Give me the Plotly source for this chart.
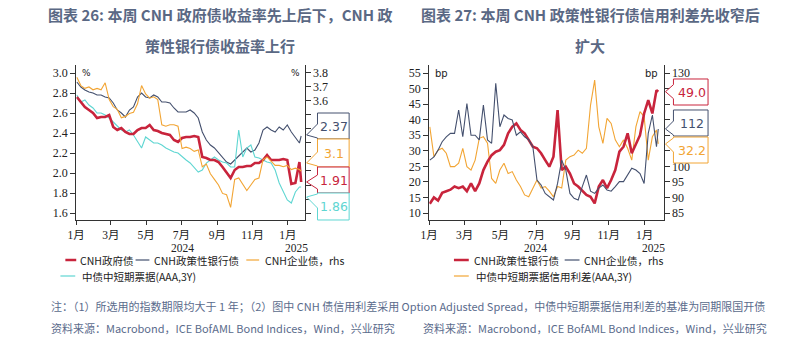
import pandas as pd
import plotly.graph_objects as go

W, H = 800, 341

# ---------------- data ----------------
dates = list(pd.date_range('2024-01-02', periods=56, freq='7D')) + [pd.Timestamp('2025-01-24')]

# Chart 26 (yields, %)
gov_yield = [2.76, 2.71, 2.66, 2.63, 2.60, 2.55, 2.56, 2.56, 2.58, 2.46,
             2.43, 2.45, 2.41, 2.39, 2.39, 2.43, 2.45, 2.45, 2.48, 2.43,
             2.42, 2.40, 2.39, 2.38, 2.33, 2.31, 2.35, 2.36, 2.36, 2.37,
             2.36, 2.16, 2.15, 2.13, 2.13, 2.11, 2.06, 2.01, 1.95, 2.03,
             2.06, 2.06, 2.07, 2.07, 2.10, 2.10, 2.13, 2.18, 2.13, 2.13,
             2.13, 2.14, 2.13, 1.89, 1.90, 2.11, 1.91]
policy_yield = [2.91, 2.86, 2.83, 2.81, 2.80, 2.78, 2.78, 2.76, 2.75, 2.70,
                2.63, 2.60, 2.56, 2.63, 2.66, 2.76, 2.80, 2.76, 2.75, 2.78,
                2.76, 2.71, 2.71, 2.70, 2.65, 2.61, 2.61, 2.61, 2.63, 2.60,
                2.55, 2.41, 2.33, 2.28, 2.25, 2.20, 2.16, 2.11, 2.09, 2.13,
                2.18, 2.21, 2.25, 2.21, 2.23, 2.30, 2.43, 2.46, 2.43, 2.41,
                2.46, 2.43, 2.48, 2.41, 2.35, 2.30, 2.37]
corp_yield = [3.77, 3.71, 3.69, 3.70, 3.68, 3.69, 3.68, 3.73, 3.61, 3.56,
              3.54, 3.48, 3.49, 3.51, 3.52, 3.58, 3.71, 3.65, 3.62, 3.63,
              3.61, 3.43, 3.42, 3.43, 3.43, 3.42, 3.26, 3.27, 3.26, 3.24,
              3.25, 3.13, 3.15, 3.08, 3.04, 3.00, 2.94, 2.93, 2.84, 3.04,
              3.05, 3.00, 2.96, 3.00, 3.04, 3.05, 3.18, 3.20, 3.17, 3.14,
              3.14, 3.13, 3.14, 3.11, 3.12, 3.11, 3.10]
mtn_yield = [2.78, 2.71, 2.73, 2.68, 2.65, 2.60, 2.60, 2.58, 2.55, 2.51,
             2.48, 2.43, 2.41, 2.43, 2.38, 2.31, 2.25, 2.36, 2.33, 2.30,
             2.30, 2.28, 2.25, 2.23, 2.21, 2.20, 2.16, 2.13, 2.10, 2.06,
             2.01, 2.03, 2.10, 2.13, 2.16, 2.13, 2.11, 2.10, 2.06, 2.06,
             2.43, 2.16, 2.25, 2.28, 2.16, 2.15, 2.13, 2.11, 2.10, 2.03,
             1.90, 1.81, 1.73, 1.70, 1.81, 1.86, 1.86]

# Chart 27 (spreads, bp)
policy_spread = [13, 15, 14, 16.5, 17, 17.5, 18.5, 18, 18.5, 17,
                 19.5, 17, 19.5, 23.8, 26.5, 28.6, 29.7, 30.2, 31.9, 35.6,
                 37.7, 38.8, 36.7, 35.6, 33.5, 31.3, 30.8, 29.2, 27.0, 24.9,
                 28.1, 43.1, 23.8, 24.9, 22.7, 19.5, 18.5, 17.0, 15.8, 15.2,
                 13.1, 18.5, 20.6, 18.0, 20.6, 23.8, 29.7, 31.3, 35.6, 29.2,
                 32.4, 35.0, 42.0, 46.3, 42.0, 49.5, 49.0]
corp_spread = [102, 103, 105.2, 107.9, 109.5, 110.6, 110.6, 118.1, 109.5, 120.2,
               110, 110, 108.5, 119.7, 108.5, 107.4, 126.7, 112.7, 116.5, 115.4,
               114.9, 110, 111.1, 109.5, 108.5, 106.3, 95.6, 94, 91.3, 90.2,
               89.2, 94.5, 102, 98.8, 91.3, 89.7, 89.2, 93.5, 97.2, 92,
               91.3, 93, 94, 92.4, 92, 93.5, 95.1, 95.1, 97.2, 99.4,
               98.8, 97.7, 94.5, 110.6, 116.5, 106.3, 112]
mtn_spread = [37.7, 28.1, 30.2, 30.8, 29.2, 24.9, 24.9, 26, 30.8, 24.9,
              23.8, 27, 34, 34.5, 32.4, 21.1, 19.5, 23.8, 26, 22.7,
              23.3, 20.6, 18.5, 15.8, 15.2, 18, 20.6, 18, 18.5, 17,
              15.2, 18.5, 18, 27, 28.1, 28.6, 30.2, 29.2, 30.8, 44.7,
              52.7, 37.7, 32.4, 40.4, 38.8, 33.5, 31.3, 33.5, 30.8, 27,
              37.7, 42.6, 41, 27, 34.5, 36.7, 32.2]

month_ticks = ['2024-01-01', '2024-03-01', '2024-05-01', '2024-07-01',
               '2024-09-01', '2024-11-01', '2025-01-01']
month_labels = ['1月', '3月', '5月', '7月', '9月', '11月', '1月']

y1_ticks = [1.6, 1.8, 2.0, 2.2, 2.4, 2.6, 2.8, 3.0]
y2_ticks = [2.8, 2.9, 3.0, 3.1, 3.2, 3.3, 3.4, 3.5, 3.6, 3.7, 3.8]
y2_labels = ['', '', '', '', '', '', '', '', '3.6', '3.7', '3.8']   # lower labels sit under the callouts
y3_ticks = [10, 15, 20, 25, 30, 35, 40, 45, 50, 55]
y4_ticks = [85, 90, 95, 100, 105, 110, 115, 120, 125, 130]
y4_labels = ['85', '90', '95', '100', '', '', '', '', '', '130']

# ---------------- style ----------------
RED = '#c8243c'
NAVY = '#44506e'
ORANGE = '#f2a534'
CYAN = '#5fd6d2'
TITLE_C = '#5a6884'
NOTE_C = '#5a6b8c'
SERIF = 'Liberation Serif, Noto Sans CJK SC'
CJK = 'Noto Sans CJK SC'

PLOT_TOP, PLOT_BOT = 65, 220
L_X0, L_X1 = 68, 299
R_X0, R_X1 = 425, 662

def px(x):
    return x / W

def py(y):
    return (H - y) / H

y1_rng = [1.53, 3.08]
y2_rng = [2.75, 3.857]
y3_rng = [7.75, 57.57]
y4_rng = [82.75, 132.57]

fig = go.Figure()
fig.add_trace(go.Scatter(x=dates, y=policy_yield, mode='lines', line=dict(color=NAVY, width=1.1),
                         xaxis='x', yaxis='y', name='CNH政策性银行债'))
fig.add_trace(go.Scatter(x=dates, y=mtn_yield, mode='lines', line=dict(color=CYAN, width=1.1),
                         xaxis='x', yaxis='y', name='中债中短期票据(AAA,3Y)'))
fig.add_trace(go.Scatter(x=dates, y=corp_yield, mode='lines', line=dict(color=ORANGE, width=1.1),
                         xaxis='x', yaxis='y2', name='CNH企业债，rhs'))
fig.add_trace(go.Scatter(x=dates, y=gov_yield, mode='lines', line=dict(color=RED, width=2.6),
                         xaxis='x', yaxis='y', name='CNH政府债'))

fig.add_trace(go.Scatter(x=dates, y=mtn_spread, mode='lines', line=dict(color=ORANGE, width=1.1),
                         xaxis='x2', yaxis='y3', name='中债中短期票据信用利差(AAA,3Y)'))
fig.add_trace(go.Scatter(x=dates, y=corp_spread, mode='lines', line=dict(color=NAVY, width=1.1),
                         xaxis='x2', yaxis='y4', name='CNH企业债，rhs'))
fig.add_trace(go.Scatter(x=dates, y=policy_spread, mode='lines', line=dict(color=RED, width=2.6),
                         xaxis='x2', yaxis='y3', name='CNH政策性银行债'))

ydom = [py(PLOT_BOT), py(PLOT_TOP)]
tickfont = dict(family=SERIF, size=12, color='#222')
xtickfont = dict(family=SERIF, size=11.5, color='#222')
common_x = dict(type='date', showgrid=False, zeroline=False, showline=True, linecolor='#333',
                linewidth=1, ticks='outside', ticklen=4, tickcolor='#333',
                tickvals=month_ticks, ticktext=month_labels, tickfont=xtickfont)
common_y = dict(showgrid=False, zeroline=False, showline=True, linecolor='#333', linewidth=1,
                ticks='outside', ticklen=5, tickcolor='#333', tickfont=tickfont)

fig.update_layout(
    width=W, height=H, margin=dict(l=0, r=0, t=0, b=0),
    paper_bgcolor='white', plot_bgcolor='white', showlegend=False,
    xaxis=dict(domain=[px(L_X0), px(L_X1)], range=['2024-01-01', '2025-01-30'], anchor='y', **common_x),
    yaxis=dict(domain=ydom, range=y1_rng, tickvals=y1_ticks, tickformat='.1f', anchor='x', **common_y),
    yaxis2=dict(range=y2_rng, overlaying='y', side='right', anchor='x',
                tickvals=y2_ticks, ticktext=y2_labels, **common_y),
    xaxis2=dict(domain=[px(R_X0), px(R_X1)], range=['2024-01-01', '2025-02-02'], anchor='y3', **common_x),
    yaxis3=dict(domain=ydom, range=y3_rng, tickvals=y3_ticks, anchor='x2', **common_y),
    yaxis4=dict(range=y4_rng, overlaying='y3', side='right', anchor='x2',
                tickvals=y4_ticks, ticktext=y4_labels, **common_y),
)

annotations = []
shapes = []

def text(x, y, s, size=12, color='#222', family=CJK, xanchor='center', bold=False):
    annotations.append(dict(x=px(x), y=py(y), xref='paper', yref='paper', text=(f'<b>{s}</b>' if bold else s),
                            showarrow=False, xanchor=xanchor, yanchor='middle',
                            font=dict(size=size, color=color, family=family)))

# Titles
text(213, 15, '图表 26: 本周 CNH 政府债收益率先上后下，CNH 政', 15, TITLE_C, bold=True)
text(213, 45, '策性银行债收益率上行', 15, TITLE_C, bold=True)
text(588, 15, '图表 27: 本周 CNH 政策性银行债信用利差先收窄后', 15, TITLE_C, bold=True)
text(588, 45, '扩大', 15, TITLE_C, bold=True)

# units
text(72, 73, '%', 9, '#222', 'DejaVu Sans', 'left')
text(296, 73, '%', 9, '#222', 'DejaVu Sans', 'right')
text(429, 73, 'bp', 10, '#222', 'DejaVu Sans', 'left')
text(658, 73, 'bp', 10, '#222', 'DejaVu Sans', 'right')

# year labels
text(175, 248, '2024', 11.5, '#222', SERIF)
text(291, 248, '2025', 11.5, '#222', SERIF)
text(532, 248, '2024', 11.5, '#222', SERIF)
text(652, 248, '2025', 11.5, '#222', SERIF)

# legends
def legend_item(x0, x1, y, color, width, label, tx):
    shapes.append(dict(type='line', xref='paper', yref='paper', x0=px(x0), x1=px(x1), y0=py(y), y1=py(y),
                       line=dict(color=color, width=width)))
    text(tx, y, label, 10.5, '#222', CJK, 'left')

legend_item(57, 68, 260, RED, 2.5, 'CNH政府债', 70)
legend_item(128, 142, 260, NAVY, 1.2, 'CNH政策性银行债', 145)
legend_item(240, 253, 260, ORANGE, 1.2, 'CNH企业债，rhs', 257)
legend_item(52, 67, 276, CYAN, 1.2, '中债中短期票据(AAA,3Y)', 72)

legend_item(450, 465, 260, RED, 2.5, 'CNH政策性银行债', 468)
legend_item(562, 577, 260, NAVY, 1.2, 'CNH企业债，rhs', 580)
legend_item(450, 465, 276, ORANGE, 1.2, '中债中短期票据信用利差(AAA,3Y)', 470)

# callouts
def val_to_py(v, rng):
    return PLOT_BOT - (v - rng[0]) / (rng[1] - rng[0]) * (PLOT_BOT - PLOT_TOP)

def callout(xl, xr, top, bot, tip_x, value, rng, color, label):
    vy = val_to_py(value, rng)
    ty = min(max(vy, top + 4), bot - 4)
    cy = min(max(ty, top + 8), bot - 8)
    pts = [(xl, top), (xr, top), (xr, bot), (xl, bot), (xl, cy + 7), (tip_x, ty), (xl, cy - 7)]
    path = 'M ' + ' L '.join(f'{px(a):.5f},{py(b):.5f}' for a, b in pts) + ' Z'
    shapes.append(dict(type='path', path=path, xref='paper', yref='paper', layer='above',
                       fillcolor='white', line=dict(color=color, width=1)))
    text((xl + xr) / 2 + 1, (top + bot) / 2, label, 12.5, color, 'DejaVu Sans')

callout(312, 344, 113, 139, 301, policy_yield[-1], y1_rng, NAVY, f'{policy_yield[-1]:.2f}')
callout(312, 344, 139, 167, 301, corp_yield[-1], y2_rng, ORANGE, f'{corp_yield[-1]:.1f}')
callout(312, 344, 167, 193, 301, gov_yield[-1], y1_rng, RED, f'{gov_yield[-1]:.2f}')
callout(312, 344, 193, 220, 301, mtn_yield[-1], y1_rng, CYAN, f'{mtn_yield[-1]:.2f}')

callout(672, 707, 79, 105, 664, policy_spread[-1], y3_rng, RED, f'{policy_spread[-1]:.1f}')
callout(672, 707, 110, 136, 664, corp_spread[-1], y4_rng, NAVY, f'{corp_spread[-1]:.0f}')
callout(672, 707, 137, 163, 664, mtn_spread[-1], y3_rng, ORANGE, f'{mtn_spread[-1]:.1f}')

# notes
text(40, 306, '注：（1）所选用的指数期限均大于 1 年；（2）图中 CNH 债信用利差采用 Option Adjusted Spread，中债中短期票据信用利差的基准为同期限国开债',
     11, NOTE_C, CJK, 'left')
text(40, 328, '资料来源：Macrobond，ICE BofAML Bond Indices，Wind，兴业研究', 11, NOTE_C, CJK, 'left')
text(417, 328, '资料来源：Macrobond，ICE BofAML Bond Indices，Wind，兴业研究', 11, NOTE_C, CJK, 'left')

fig.update_layout(annotations=annotations, shapes=shapes)
fig.write_html('out.html')
